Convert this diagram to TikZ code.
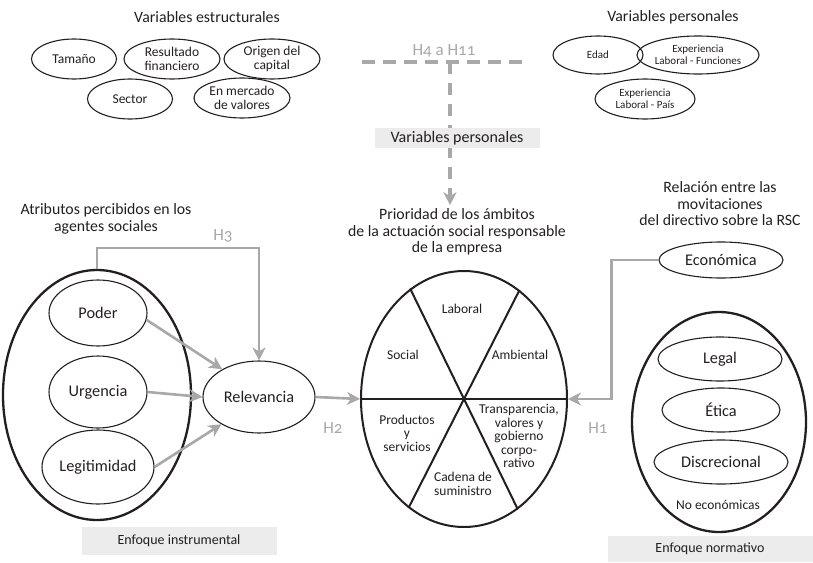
\documentclass[tikz,border=0pt]{standalone}
\usepackage{fontspec}
\setmainfont[Numbers=OldStyle]{Carlito}
\usepackage{xcolor}
\usepackage{tikz}
\usetikzlibrary{arrows.meta}
\usetikzlibrary{shapes.geometric}
\definecolor{tinta}{HTML}{231F20}
\definecolor{hgris}{HTML}{A8A8A8}
\definecolor{cajagris}{HTML}{ECECEC}

\begin{document}
\begin{tikzpicture}[x=1pt,y=-1pt,
		every node/.style={text=tinta},
		elip/.style={ellipse,draw=tinta,line width=1.1pt,inner sep=0pt,align=center},
		grupo/.style={ellipse,draw=tinta,line width=2.3pt,inner sep=0pt},
		hyp/.style={draw=hgris,line width=2.6pt,-{Stealth[length=13pt,width=13pt,inset=4pt]}},
		hlab/.style={text=hgris,font=\fontsize{17}{18}\selectfont},
		titulo/.style={align=center,font=\fontsize{15.8}{16.5}\selectfont},
		caja/.style={fill=cajagris,inner sep=0pt,font=\fontsize{14}{15}\selectfont},
		chico/.style={font=\fontsize{13.5}{13.5}\selectfont},
		medio/.style={font=\fontsize{16.3}{16}\selectfont},
		mini/.style={font=\fontsize{11}{12.5}\selectfont}]
			
			\useasboundingbox (0,0) rectangle (813,562);
			
			% variables estructurales
			\node[titulo] (vestr) at (207,17) {Variables estructurales};
			\node[elip,chico,minimum width=85,minimum height=40] (tamano) at (74,59) {Tamaño};
			\node[elip,chico,minimum width=96,minimum height=40] (resultado) at (172,59) {Resultado\\financiero};
			\node[elip,chico,minimum width=96,minimum height=40] (origen) at (272,59) {Origen del\\capital};
			\node[elip,chico,minimum width=85,minimum height=40] (sector) at (130,99) {Sector};
			\node[elip,chico,minimum width=96,minimum height=40] (mercado) at (242,98) {En mercado\\de valores};
			
			% variables personales
			\node[titulo] (vpers) at (673,17) {Variables personales};
			\node[elip,mini,minimum width=90,minimum height=38] (edad) at (598,55) {Edad};
			\node[elip,mini,minimum width=106,minimum height=38] (expfun) at (698,55) {Experiencia\\Laboral - Funciones};
			\node[elip,mini,minimum width=100,minimum height=40] (exppais) at (645,99) {Experiencia\\Laboral - País};
			
			% H4 a H11, dashed
			\coordinate (hizq) at (362,62);
			\coordinate (hder) at (529,62);
			\coordinate (hcruce) at (450,62);
			\node[titulo] (prio) at (457,232) {Prioridad de los ámbitos\\de la actuación social responsable\\de la empresa};
			\draw[draw=hgris,line width=4pt,dash pattern=on 13pt off 8pt] (hizq) -- (hder);
			\draw[hyp,line width=4pt,dash pattern=on 12pt off 9pt] (hcruce) -- (hcruce |- prio.north);
			\node[hlab] (h4) at (444,51) {H4 a H11};
			\node[caja,font=\fontsize{16}{16}\selectfont,minimum width=165,minimum height=20] (cajavp) at (457,138) {Variables personales};
			
			% atributos percibidos
			\node[titulo] (atrib) at (106,219) {Atributos percibidos en los\\agentes sociales};
			\node[grupo,minimum width=188,minimum height=250] (grupoatr) at (97,395) {};
			\node[elip,medio,minimum width=98,minimum height=66] (poder) at (98,313) {Poder};
			\node[elip,medio,minimum width=98,minimum height=72] (urgencia) at (98,392) {Urgencia};
			\node[elip,medio,minimum width=112,minimum height=74] (legit) at (98,467) {Legitimidad};
			\node[elip,medio,minimum width=112,minimum height=72] (relev) at (259,397) {Relevancia};
			\draw[hyp] (poder.-8) -- (relev.143);
			\draw[hyp] (urgencia.east) -- (relev.west);
			\draw[hyp] (legit.east) -- (relev.216);
			\draw[hyp] (grupoatr.north) -- ++(0,-21) -| (relev.north);
			\node[hlab] (h3) at (223,236) {H3};
			\node[caja,minimum width=195,minimum height=28] (cajains) at (179,541) {Enfoque instrumental};
			
			% ambitos de la actuacion social
			\node[ellipse,draw=tinta,line width=2pt,minimum width=206,minimum height=256,inner sep=0pt] (ambitos) at (464,399) {};
			\draw[line width=2pt,tinta] (ambitos.west) -- (ambitos.east);
			\draw[line width=2pt,tinta] (ambitos.116) -- (ambitos.-64);
			\draw[line width=2pt,tinta] (ambitos.63) -- (ambitos.243);
			\node[chico] (laboral) at (462,309) {Laboral};
			\node[chico] (social) at (403,355) {Social};
			\node[chico] (ambiental) at (520,355) {Ambiental};
			\node[chico,align=center] (productos) at (407,433) {Productos\\y\\servicios};
			\node[chico,align=center] (transp) at (519,436) {Transparencia,\\valores y\\gobierno\\corpo-\\rativo};
			\node[chico,align=center] (cadena) at (463,484) {Cadena de\\suministro};
			\draw[hyp] (relev.east) -- (ambitos.west);
			\node[hlab] (h2) at (333,428) {H2};
			
			% motivaciones del directivo
			\node[titulo] (motiv) at (720,204) {Relación entre las\\movitaciones\\del directivo sobre la RSC};
			\node[elip,medio,minimum width=124,minimum height=36] (economica) at (721,260) {Económica};
			\node[grupo,minimum width=174,minimum height=220] (noecon) at (719,422) {};
			\node[elip,medio,minimum width=124,minimum height=44] (legal) at (720,359) {Legal};
			\node[elip,medio,minimum width=118,minimum height=44] (etica) at (721,410) {Ética};
			\node[elip,medio,minimum width=134,minimum height=44] (discrec) at (721,462) {Discrecional};
			\node[chico] (noeconlab) at (718,505) {No económicas};
			\draw[hyp] (economica.west) -- ++(-47,0) |- (ambitos.east);
			\node[hlab] (h1) at (598,428) {H1};
			\node[caja,minimum width=205,minimum height=26] (cajanor) at (710,549) {Enfoque normativo};
			
		\end{tikzpicture}
\end{document}
